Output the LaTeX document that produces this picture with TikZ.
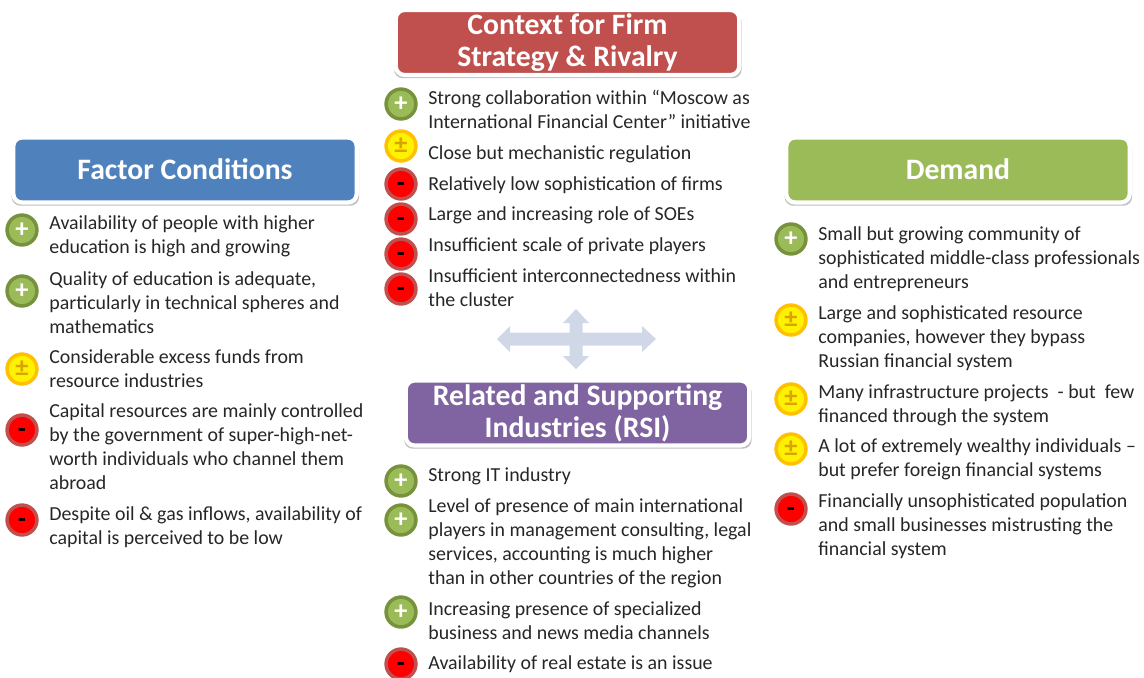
\documentclass[tikz,border=0pt]{standalone}
\usepackage{fontspec}
\setmainfont{Carlito}
\usetikzlibrary{shadows}
\definecolor{factorblue}{HTML}{4F81BD}
\definecolor{rivalryred}{HTML}{C0504D}
\definecolor{demandgreen}{HTML}{9BBB59}
\definecolor{rsipurple}{HTML}{8064A2}
\definecolor{plusring}{HTML}{76923C}
\definecolor{plusfill}{HTML}{9BBB59}
\definecolor{mixring}{HTML}{FFC000}
\definecolor{crosscol}{HTML}{D0D8E8}
\tikzset{
	header/.style={rectangle,rounded corners=5pt,draw=white,line width=2.4pt,text=white,
		minimum width=195.5pt,minimum height=37pt,inner sep=0pt,align=center,
		font=\fontsize{16.9}{18.4}\selectfont\bfseries,
		general shadow={shadow xshift=0.2pt,shadow yshift=-1.6pt,shadow scale=1.012,fill=black!25}},
	itemtext/.style={anchor=west,align=left,inner sep=0pt,text=black!85,
		font=\fontsize{11.32}{13.7}\selectfont},
	icon/.style={circle,minimum size=17pt,inner sep=0pt,line width=2pt,text height=8.2pt,text depth=0pt,
		font=\fontsize{15}{15}\selectfont\bfseries},
	plusicon/.style={icon,draw=plusring,fill=plusfill,text=white},
	mixicon/.style={icon,draw=mixring,fill=yellow,text=mixring!85!black},
	minusicon/.style={icon,draw=rivalryred,fill=red,text=black}
}
\begin{document}
\begin{tikzpicture}[x=0.5692pt,y=-0.5692pt]
	\useasboundingbox (0,0) rectangle (1144,677);
	% headers
	\node [header,fill=rivalryred] (rivalry) at (567.5,42.5) {Context for Firm\\Strategy \& Rivalry};
	\node [header,fill=factorblue,text depth=1.5pt] (factor) at (185,170) {Factor Conditions};
	\node [header,fill=demandgreen,text depth=1.5pt] (demand) at (958,170) {Demand};
	\node [header,fill=rsipurple] (rsi) at (577.5,413) {Related and Supporting\\Industries (RSI)};
	% left column
	\node [plusicon] (f1) at (22,230) {+};
	\node [itemtext] (ft1) at (49,236) {Availability of people with higher\\education is high and growing};
	\node [plusicon] (f2) at (22,291) {+};
	\node [itemtext] (ft2) at (49,302.5) {Quality of education is adequate,\\particularly in technical spheres and\\mathematics};
	\node [mixicon] (f3) at (22,369) {±};
	\node [itemtext] (ft3) at (49,369) {Considerable excess funds from\\resource industries};
	\node [minusicon] (f4) at (22,430) {-};
	\node [itemtext] (ft4) at (49,447) {Capital resources are mainly controlled\\by the government of super-high-net-\\worth individuals who channel them\\abroad};
	\node [minusicon] (f5) at (22,520) {-};
	\node [itemtext] (ft5) at (49,527) {Despite oil \& gas inflows, availability of\\capital is perceived to be low};
	% center column, top
	\node [plusicon] (c1) at (401,104) {+};
	\node [itemtext] (ct1) at (428,109) {Strong collaboration within “Moscow as\\International Financial Center” initiative};
	\node [mixicon] (c2) at (401,146) {±};
	\node [itemtext] (ct2) at (428,154) {Close but mechanistic regulation};
	\node [minusicon] (c3) at (401,184) {-};
	\node [itemtext] (ct3) at (428,185) {Relatively low sophistication of firms};
	\node [minusicon] (c4) at (401,219) {-};
	\node [itemtext] (ct4) at (428,215) {Large and increasing role of SOEs};
	\node [minusicon] (c5) at (401,254) {-};
	\node [itemtext] (ct5) at (428,246) {Insufficient scale of private players};
	\node [minusicon] (c6) at (401,289) {-};
	\node [itemtext] (ct6) at (428,288) {Insufficient interconnectedness within\\the cluster};
	% cross
	\fill [crosscol] (497,339) -- (510,326) -- (510,332.5) -- (569.5,332.5) -- (569.5,323) -- (563,323)
		-- (576,309) -- (589,323) -- (582.5,323) -- (582.5,332.5) -- (642,332.5) -- (642,326)
		-- (656,339) -- (642,352) -- (642,345.5) -- (582.5,345.5) -- (582.5,356) -- (589,356)
		-- (576,369) -- (563,356) -- (569.5,356) -- (569.5,345.5) -- (510,345.5) -- (510,352) -- cycle;
	% center column, bottom
	\node [plusicon] (r1) at (401,481) {+};
	\node [itemtext] (rt1) at (428,476) {Strong IT industry};
	\node [plusicon] (r2) at (401,520) {+};
	\node [itemtext] (rt2) at (428,543.5) {Level of presence of main international\\players in management consulting, legal\\services, accounting is much higher\\than in other countries of the region};
	\node [plusicon] (r3) at (401,612) {+};
	\node [itemtext] (rt3) at (428,621) {Increasing presence of specialized\\business and news media channels};
	\node [minusicon] (r4) at (401,664) {-};
	\node [itemtext] (rt4) at (428,664) {Availability of real estate is an issue};
	% right column
	\node [plusicon] (d1) at (791,239) {+};
	\node [itemtext] (dt1) at (818,259) {Small but growing community of\\sophisticated middle-class professionals\\and entrepreneurs};
	\node [mixicon] (d2) at (791,320) {±};
	\node [itemtext] (dt2) at (818,338) {Large and sophisticated resource\\companies, however they bypass\\Russian financial system};
	\node [mixicon] (d3) at (791,399) {±};
	\node [itemtext] (dt3) at (818,405) {Many infrastructure projects~ - but~ few\\financed through the system};
	\node [mixicon] (d4) at (791,449) {±};
	\node [itemtext] (dt4) at (818,459) {A lot of extremely wealthy individuals –\\but prefer foreign financial systems};
	\node [minusicon] (d5) at (791,509) {-};
	\node [itemtext] (dt5) at (818,526) {Financially unsophisticated population\\and small businesses mistrusting the\\financial system};
\end{tikzpicture}
\end{document}
